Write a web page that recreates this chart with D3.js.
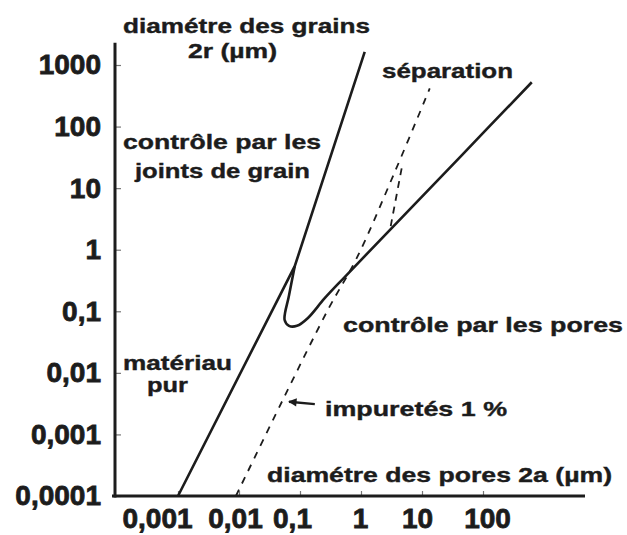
<!DOCTYPE html>
<html>
<head>
<meta charset="utf-8">
<script src="https://cdn.jsdelivr.net/npm/d3@7"></script>
<style>
  body { margin: 0; background: #fff; }
  svg text { font-family: "Liberation Sans", Arial, sans-serif; font-weight: bold; fill: #1c1c1c; }
</style>
</head>
<body>
<figure id="chart" style="margin:0"></figure>
<script>
// tick values (log scales, µm)
const xTicks = [0.001, 0.01, 0.1, 1, 10, 100];
const yTicks = [0.0001, 0.001, 0.01, 0.1, 1, 10, 100, 1000];

// pore diameter 2a vs grain diameter 2r
const pureLine = [[0.001, 0.0001], [0.082, 0.54], [1.15, 1630]];
const poreLine = [[0.082, 0.54], [0.066, 0.18], [0.056, 0.072], [0.066, 0.058],
                  [0.089, 0.058], [0.135, 0.078], [0.25, 0.16], [0.54, 0.36], [42, 32], [630, 525]];
const impurityLine = [[0.0089, 0.0001], [0.052, 0.0036], [0.286, 0.105], [0.85, 0.73], [3.57, 18.2], [13.4, 417]];
const separationLine = [[4.64, 21], [3.07, 2.42]];
const arrowPts = [[0.175, 0.0031], [0.066, 0.0034]];

const width = 627, height = 535;
const ink = "#1c1c1c";

const svg = d3.select("#chart").append("svg")
  .attr("width", width)
  .attr("height", height);

const x = d3.scaleLog().domain([0.001, 100]).range([178, 483]);
const y = d3.scaleLog().domain([0.0001, 1000]).range([496, 65]);

const fmt = d => String(d).replace(".", ",");

// axes
const xAxis = d3.axisBottom(x).tickValues(xTicks).tickFormat(fmt)
  .tickSizeInner(-5).tickSizeOuter(0).tickPadding(12);
const yAxis = d3.axisLeft(y).tickValues(yTicks).tickFormat(fmt)
  .tickSizeInner(-6).tickSizeOuter(0).tickPadding(14);

const xLabelNudge = [-21, -4, -8, -1, -5, 4];

const gx = svg.append("g").attr("transform", "translate(0,496)").call(xAxis);
const gy = svg.append("g").attr("transform", "translate(115,0)").call(yAxis);
[gx, gy].forEach(g => {
  g.select(".domain").remove();
  g.selectAll("line").attr("stroke", "#777").attr("stroke-width", 1.2);
  g.selectAll("text")
    .attr("font-family", "Liberation Sans, Arial, sans-serif")
    .attr("font-weight", "bold")
    .attr("font-size", 28)
    .attr("fill", ink)
    .attr("stroke", ink)
    .attr("stroke-width", 0.8);
});
gx.selectAll("text").attr("dx", (d, i) => xLabelNudge[i]);

svg.append("line")
  .attr("x1", 115).attr("x2", 115)
  .attr("y1", y(2300)).attr("y2", 497.5)
  .attr("stroke", ink).attr("stroke-width", 3);
svg.append("line")
  .attr("x1", 112).attr("x2", x(4700))
  .attr("y1", 496).attr("y2", 496)
  .attr("stroke", ink).attr("stroke-width", 3);

// curves
const line = d3.line().x(d => x(d[0])).y(d => y(d[1]));

svg.append("path").datum(pureLine)
  .attr("d", line)
  .attr("fill", "none").attr("stroke", ink).attr("stroke-width", 2.6);

svg.append("path").datum(poreLine)
  .attr("d", line.curve(d3.curveCatmullRom.alpha(0.5)))
  .attr("fill", "none").attr("stroke", ink).attr("stroke-width", 2.6);

svg.append("path").datum(impurityLine)
  .attr("d", line.curve(d3.curveCatmullRom.alpha(0.5)))
  .attr("fill", "none").attr("stroke", ink).attr("stroke-width", 1.8)
  .attr("stroke-dasharray", "7,7");

svg.append("path").datum(separationLine)
  .attr("d", line.curve(d3.curveLinear))
  .attr("fill", "none").attr("stroke", ink).attr("stroke-width", 1.8)
  .attr("stroke-dasharray", "7,6");

// arrow to the impurity line
svg.append("defs").append("marker")
  .attr("id", "head")
  .attr("viewBox", "0 0 10 10")
  .attr("refX", 9).attr("refY", 5)
  .attr("markerWidth", 4).attr("markerHeight", 3.5)
  .attr("orient", "auto")
  .append("path").attr("d", "M0,0L10,5L0,10Z").attr("fill", ink);

svg.append("line")
  .attr("x1", x(arrowPts[0][0])).attr("y1", y(arrowPts[0][1]))
  .attr("x2", x(arrowPts[1][0])).attr("y2", y(arrowPts[1][1]))
  .attr("stroke", ink).attr("stroke-width", 2.4)
  .attr("marker-end", "url(#head)");

// labels
const labels = [
  {t: "diamétre des grains", x: 123, y: 33, w: 247},
  {t: "2r (µm)", x: 188, y: 58, w: 89},
  {t: "séparation", x: 382, y: 78, w: 131},
  {t: "contrôle par les", x: 123, y: 149, w: 198},
  {t: "joints de grain", x: 135, y: 178, w: 175},
  {t: "matériau", x: 123, y: 370, w: 109},
  {t: "pur", x: 147, y: 392, w: 41},
  {t: "contrôle par les pores", x: 343, y: 332, w: 280},
  {t: "impuretés 1 %", x: 325, y: 416, w: 182},
  {t: "diamétre des pores 2a (µm)", x: 267, y: 482, w: 345}
];

svg.append("g").selectAll("text")
  .data(labels)
  .enter().append("text")
  .attr("x", d => d.x)
  .attr("y", d => d.y)
  .attr("font-size", 21)
  .attr("stroke", ink)
  .attr("stroke-width", 0.4)
  .attr("textLength", d => d.w)
  .attr("lengthAdjust", "spacingAndGlyphs")
  .text(d => d.t);
</script>
</body>
</html>
